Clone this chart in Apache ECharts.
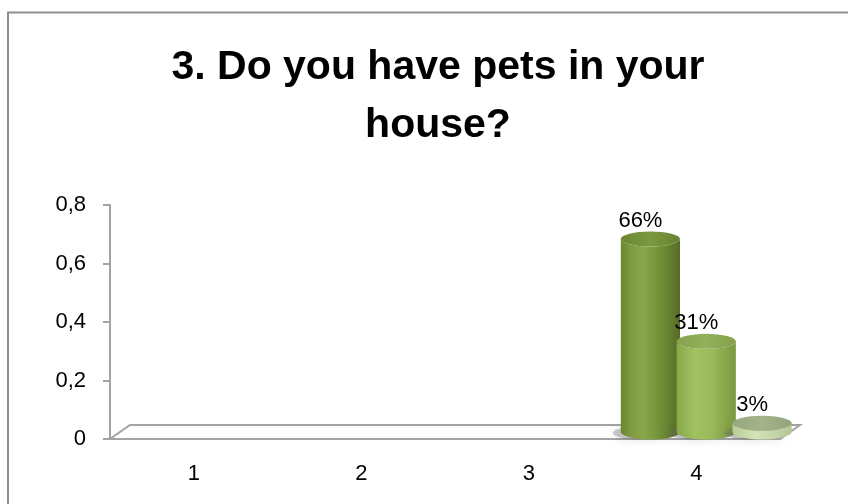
<!DOCTYPE html>
<html>
<head>
<meta charset="utf-8">
<script src="https://cdn.jsdelivr.net/npm/echarts@6/dist/echarts.min.js"></script>
<style>
  html, body { margin: 0; padding: 0; background: #fff; }
  #chart { width: 848px; height: 504px; }
</style>
</head>
<body>
<div id="chart"></div>
<script>
// Survey answers: share of respondents per answer group
const categories = ['1', '2', '3', '4'];
const seriesA = [null, null, null, 0.66];
const seriesB = [null, null, null, 0.31];
const seriesC = [null, null, null, 0.03];
const yMin = 0, yMax = 0.8, yStep = 0.2;

const FONT = '"Liberation Sans", Arial, sans-serif';
const GRAY = '#a3a3a3';
const DEPTH_X = 20, DEPTH_Y = -14;   // floor depth (3D look)

// Cylinder colouring per series: side gradient stops and top colour
const looks = [
  { side: [[0, '#6b8632'], [0.18, '#7f9c3f'], [0.38, '#89a84a'], [0.72, '#6e8b35'], [1, '#556b25']],
    top: [[0, '#6a8633'], [0.5, '#7b9940'], [1, '#66812f']] },
  { side: [[0, '#87a84a'], [0.3, '#a2c261'], [0.6, '#9ab959'], [1, '#7a9841']],
    top: [[0, '#86a24c'], [0.5, '#93b05a'], [1, '#82a049']] },
  { side: [[0, '#b9cd97'], [0.4, '#d4e4b7'], [1, '#b4c696']],
    top: [[0, '#97a87f'], [0.5, '#a3b48b'], [1, '#93a47a']] }
];

function grad(stops) {
  return {
    type: 'linear', x: 0, y: 0, x2: 1, y2: 0,
    colorStops: stops.map(s => ({ offset: s[0], color: s[1] }))
  };
}

function ellipsePath(cx, cy, rx, ry) {
  return 'M' + (cx - rx) + ' ' + cy +
    ' A' + rx + ' ' + ry + ' 0 1 0 ' + (cx + rx) + ' ' + cy +
    ' A' + rx + ' ' + ry + ' 0 1 0 ' + (cx - rx) + ' ' + cy + ' Z';
}

function toPairs(arr) {
  const out = [];
  arr.forEach((v, i) => { if (v != null) out.push([i, v]); });
  return out;
}

function fmtPct(v) { return Math.round(v * 100) + '%'; }

function cylinderRenderer(seriesIndex) {
  return function (params, api) {
    const cat = api.value(0);
    const val = api.value(1);
    const base = api.coord([cat, 0]);
    const top = api.coord([cat, val]);
    const band = api.size([1, 0])[0];
    const w = band / 3;
    const frontCx = base[0] + (seriesIndex - 1) * w;
    const cx = frontCx + DEPTH_X / 2;
    const yb = base[1] + DEPTH_Y / 2;
    const yt = top[1] + DEPTH_Y / 2;
    const rx = w * 0.53, ry = 7.5;
    const look = looks[seriesIndex];
    const side =
      'M' + (cx - rx) + ' ' + yt +
      ' L' + (cx - rx) + ' ' + yb +
      ' A' + rx + ' ' + ry + ' 0 0 0 ' + (cx + rx) + ' ' + yb +
      ' L' + (cx + rx) + ' ' + yt +
      ' A' + rx + ' ' + ry + ' 0 0 1 ' + (cx - rx) + ' ' + yt + ' Z';
    return {
      type: 'group',
      children: [
        { type: 'path', shape: { pathData: ellipsePath(cx - 8, yb + 1, rx, ry * 0.9) },
          style: { fill: 'rgba(110,110,110,0.35)', shadowBlur: 10, shadowColor: 'rgba(0,0,0,0.35)' },
          silent: true },
        { type: 'path', shape: { pathData: side }, style: { fill: grad(look.side) } },
        { type: 'path', shape: { pathData: ellipsePath(cx, yt, rx, ry) }, style: { fill: grad(look.top) } },
        { type: 'text', x: frontCx, y: top[1] - 25,
          style: { text: fmtPct(val), fill: '#000', font: '22px ' + FONT,
                   align: 'center', verticalAlign: 'middle' } }
      ]
    };
  };
}

function floorRenderer(params) {
  const cs = params.coordSys;
  const x0 = cs.x, x1 = cs.x + cs.width, y = cs.y + cs.height;
  return {
    type: 'polygon',
    shape: { points: [[x0, y], [x1, y], [x1 + DEPTH_X, y + DEPTH_Y], [x0 + DEPTH_X, y + DEPTH_Y]] },
    style: { fill: '#fff', stroke: GRAY, lineWidth: 2, lineJoin: 'miter' },
    silent: true
  };
}

const chart = echarts.init(document.getElementById('chart'), null, { renderer: 'canvas' });

const series = [
  { type: 'custom', name: 'floor', renderItem: floorRenderer, data: [[0, 0]], z: 1, silent: true }
];
[seriesA, seriesB, seriesC].forEach((arr, i) => {
  series.push({
    type: 'custom', name: 'S' + (i + 1),
    renderItem: cylinderRenderer(i),
    encode: { x: 0, y: 1 },
    data: toPairs(arr),
    z: 3 + i
  });
});

chart.setOption({
  animation: false,
  backgroundColor: '#fff',
  title: {
    text: '3. Do you have pets in your\nhouse?',
    left: 433, top: 34, textAlign: 'center',
    textStyle: { fontFamily: FONT, fontSize: 41, fontWeight: 'bold', color: '#000', lineHeight: 58 }
  },
  graphic: [{
    type: 'rect', shape: { x: 8, y: 12.5, width: 900, height: 600 },
    style: { fill: 'none', stroke: '#8f8f8f', lineWidth: 2 }, silent: true
  }],
  grid: { left: 110, right: 68, top: 205, bottom: 65 },
  xAxis: {
    type: 'category', data: categories, boundaryGap: true,
    axisLine: { show: false }, axisTick: { show: false },
    axisLabel: { fontFamily: FONT, fontSize: 22, color: '#000', margin: 24 },
    splitLine: { show: false }
  },
  yAxis: {
    type: 'value', min: yMin, max: yMax, interval: yStep,
    axisLine: { show: true, lineStyle: { color: GRAY, width: 2 } },
    axisTick: { show: true, length: 7, lineStyle: { color: GRAY, width: 2 } },
    axisLabel: {
      fontFamily: FONT, fontSize: 22, color: '#000', margin: 24,
      formatter: v => String(Math.round(v * 10) / 10).replace('.', ',')
    },
    splitLine: { show: false }
  },
  series: series
});
</script>
</body>
</html>
